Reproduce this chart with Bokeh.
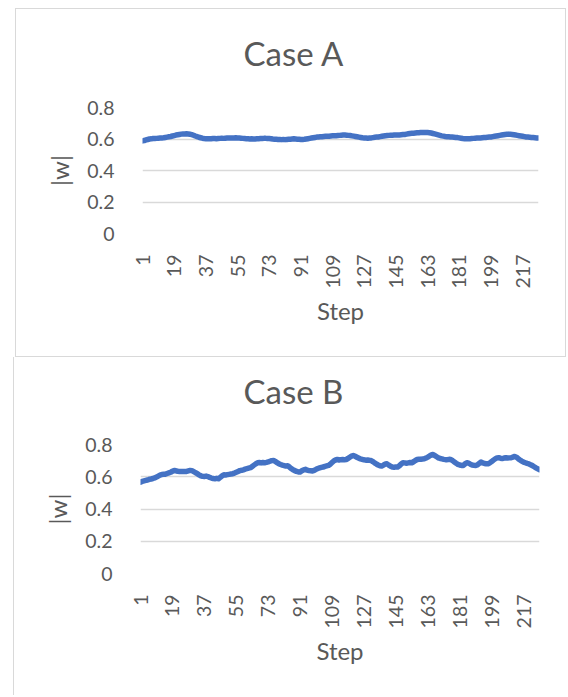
import math
from bokeh.plotting import figure
from bokeh.layouts import column
from bokeh.models import Range1d, FixedTicker, Title
from bokeh.embed import file_html
from bokeh.resources import INLINE

steps = list(range(1, 227))
x_ticks = list(range(1, 226, 18))
y_ticks = [0, 0.2, 0.4, 0.6, 0.8]

case_a = [
    0.588, 0.590, 0.594, 0.597, 0.600, 0.601, 0.603, 0.603, 0.604, 0.605,
    0.606, 0.607, 0.608, 0.610, 0.612, 0.614, 0.616, 0.619, 0.622, 0.625,
    0.627, 0.629, 0.631, 0.632, 0.632, 0.633, 0.632, 0.630, 0.628, 0.624,
    0.619, 0.615, 0.611, 0.608, 0.605, 0.603, 0.602, 0.601, 0.601, 0.602,
    0.603, 0.603, 0.602, 0.603, 0.604, 0.605, 0.604, 0.605, 0.606, 0.607,
    0.607, 0.606, 0.607, 0.608, 0.607, 0.606, 0.605, 0.604, 0.603, 0.602,
    0.601, 0.600, 0.601, 0.600, 0.600, 0.601, 0.602, 0.603, 0.603, 0.604,
    0.604, 0.603, 0.603, 0.602, 0.600, 0.599, 0.598, 0.597, 0.597, 0.596,
    0.597, 0.596, 0.597, 0.598, 0.599, 0.600, 0.601, 0.600, 0.599, 0.598,
    0.597, 0.597, 0.598, 0.600, 0.602, 0.604, 0.606, 0.608, 0.610, 0.612,
    0.613, 0.614, 0.615, 0.616, 0.617, 0.618, 0.618, 0.619, 0.620, 0.620,
    0.621, 0.622, 0.623, 0.624, 0.625, 0.625, 0.624, 0.623, 0.622, 0.620,
    0.618, 0.616, 0.614, 0.612, 0.610, 0.608, 0.607, 0.606, 0.605, 0.606,
    0.607, 0.609, 0.611, 0.612, 0.613, 0.615, 0.617, 0.619, 0.621, 0.622,
    0.623, 0.624, 0.624, 0.625, 0.625, 0.625, 0.626, 0.627, 0.628, 0.629,
    0.631, 0.633, 0.635, 0.636, 0.637, 0.638, 0.639, 0.640, 0.641, 0.642,
    0.642, 0.642, 0.641, 0.640, 0.638, 0.635, 0.632, 0.629, 0.626, 0.623,
    0.620, 0.618, 0.616, 0.615, 0.614, 0.613, 0.612, 0.611, 0.610, 0.609,
    0.607, 0.605, 0.603, 0.602, 0.601, 0.601, 0.602, 0.603, 0.604, 0.605,
    0.606, 0.606, 0.607, 0.608, 0.609, 0.610, 0.611, 0.612, 0.613, 0.615,
    0.617, 0.619, 0.621, 0.623, 0.625, 0.627, 0.629, 0.630, 0.631, 0.630,
    0.629, 0.627, 0.625, 0.623, 0.621, 0.619, 0.617, 0.615, 0.613, 0.612,
    0.611, 0.610, 0.609, 0.608, 0.607, 0.607,
]

case_b = [
    0.567, 0.571, 0.574, 0.577, 0.580, 0.584, 0.586, 0.589, 0.593, 0.598,
    0.604, 0.610, 0.614, 0.615, 0.616, 0.620, 0.624, 0.628, 0.634, 0.639,
    0.637, 0.634, 0.633, 0.632, 0.633, 0.632, 0.633, 0.636, 0.639, 0.638,
    0.632, 0.626, 0.619, 0.612, 0.606, 0.603, 0.602, 0.604, 0.601, 0.596,
    0.592, 0.589, 0.588, 0.590, 0.588, 0.596, 0.605, 0.612, 0.611, 0.613,
    0.615, 0.617, 0.619, 0.623, 0.628, 0.633, 0.638, 0.640, 0.643, 0.647,
    0.650, 0.653, 0.656, 0.664, 0.672, 0.680, 0.687, 0.688, 0.686, 0.688,
    0.687, 0.689, 0.692, 0.696, 0.700, 0.701, 0.695, 0.688, 0.681, 0.676,
    0.672, 0.669, 0.666, 0.668, 0.660, 0.651, 0.643, 0.638, 0.633, 0.630,
    0.629, 0.637, 0.643, 0.646, 0.641, 0.638, 0.637, 0.636, 0.640, 0.646,
    0.651, 0.655, 0.658, 0.660, 0.664, 0.667, 0.670, 0.678, 0.688, 0.698,
    0.704, 0.707, 0.704, 0.706, 0.707, 0.706, 0.707, 0.713, 0.721, 0.728,
    0.732, 0.727, 0.721, 0.715, 0.711, 0.708, 0.705, 0.703, 0.704, 0.702,
    0.701, 0.694, 0.686, 0.679, 0.673, 0.668, 0.666, 0.672, 0.679, 0.680,
    0.672, 0.665, 0.660, 0.659, 0.661, 0.660, 0.668, 0.679, 0.687, 0.686,
    0.684, 0.686, 0.688, 0.687, 0.693, 0.701, 0.707, 0.709, 0.708, 0.710,
    0.711, 0.716, 0.722, 0.729, 0.735, 0.738, 0.731, 0.724, 0.717, 0.713,
    0.711, 0.708, 0.706, 0.706, 0.708, 0.707, 0.700, 0.692, 0.684, 0.677,
    0.673, 0.670, 0.670, 0.680, 0.687, 0.684, 0.678, 0.673, 0.671, 0.670,
    0.674, 0.683, 0.691, 0.686, 0.682, 0.680, 0.680, 0.686, 0.694, 0.703,
    0.711, 0.717, 0.718, 0.715, 0.713, 0.716, 0.718, 0.716, 0.717, 0.718,
    0.722, 0.726, 0.721, 0.712, 0.704, 0.697, 0.691, 0.687, 0.683, 0.680,
    0.674, 0.669, 0.662, 0.655, 0.649, 0.644,
]

FONT = "Lato"
TEXT = "#595959"
GRID = "#d9d9d9"
LINE = "#4472c4"


def make_chart(title, values, width, height, mb_left, mb_right, mb_top, mb_bottom,
               title_offset, gap, styles):
    p = figure(width=width, height=height, output_backend="svg", toolbar_location=None,
               x_range=Range1d(1, 226), y_range=Range1d(0, 0.8),
               min_border_left=mb_left, min_border_right=mb_right,
               min_border_top=mb_top, min_border_bottom=mb_bottom,
               tools="")
    p.title = None
    p.styles = styles
    p.outline_line_color = None
    p.background_fill_color = "white"
    p.border_fill_color = "white"

    # spacer between plot area and title (closest to the frame)
    p.add_layout(Title(text=" ", text_font_size="1px", standoff=gap), "above")
    p.add_layout(Title(text=title, text_font=FONT, text_font_size="33px",
                       text_font_style="normal", text_color=TEXT, align="left",
                       offset=title_offset, standoff=0), "above")

    p.line(steps, values, line_color=LINE, line_width=5.5, line_join="round", line_cap="round")

    p.xgrid.grid_line_color = None
    p.ygrid.grid_line_color = GRID
    p.ygrid.grid_line_width = 1.5
    p.ygrid.ticker = FixedTicker(ticks=y_ticks)

    xa = p.xaxis[0]
    xa.ticker = FixedTicker(ticks=x_ticks)
    xa.major_label_orientation = math.pi / 2
    xa.axis_line_color = None
    xa.major_tick_line_color = None
    xa.minor_tick_line_color = None
    xa.major_label_standoff = 15
    xa.major_label_text_font = FONT
    xa.major_label_text_font_size = "19.5px"
    xa.major_label_text_color = TEXT
    xa.axis_label = "Step"
    xa.axis_label_text_font = FONT
    xa.axis_label_text_font_size = "24px"
    xa.axis_label_text_font_style = "normal"
    xa.axis_label_text_color = TEXT
    xa.axis_label_standoff = 5

    ya = p.yaxis[0]
    ya.ticker = FixedTicker(ticks=y_ticks)
    ya.axis_line_color = None
    ya.major_tick_line_color = None
    ya.minor_tick_line_color = None
    ya.major_label_standoff = 22
    ya.major_label_text_font = FONT
    ya.major_label_text_font_size = "19.5px"
    ya.major_label_text_color = TEXT
    ya.major_label_overrides = {0: "0", 0.2: "0.2", 0.4: "0.4", 0.6: "0.6", 0.8: "0.8"}
    ya.axis_label = "|w|"
    ya.axis_label_text_font = FONT
    ya.axis_label_text_font_size = "24px"
    ya.axis_label_text_font_style = "normal"
    ya.axis_label_text_color = TEXT
    ya.axis_label_standoff = 10
    return p


pa = make_chart("Case A", case_a, 551, 349, 126, 29, 98, 125, 101, 32,
                {"border": "1px solid #d9d9d9"})
pa.margin = (8, 0, 0, 15)

pb = make_chart("Case B", case_b, 554, 338, 126, 28, 87, 122, 103, 31,
                {"border-left": "1px solid #d9d9d9"})
pb.margin = (0, 0, 0, 13)

layout = column(pa, pb)
layout.margin = 0
layout.spacing = 0

open("out.html", "w").write(file_html(layout, INLINE))
